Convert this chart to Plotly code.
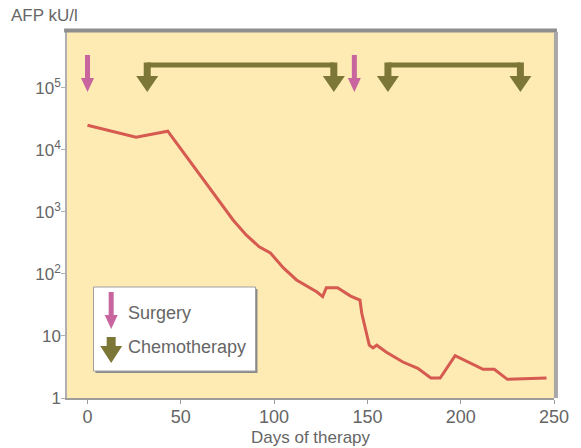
import plotly.graph_objects as go

# ---- data ----
days = [0, 26, 43, 55, 66, 78, 85, 92, 98, 105, 112, 118, 123, 126, 128, 134, 141,
        146, 147, 151, 153, 155, 160, 169, 177, 184, 189, 197, 205, 212, 218, 225, 246]
afp = [25000, 16000, 20000, 6400, 2250, 740, 425, 274, 218, 125, 80, 62, 51, 43, 60, 60, 44,
       38, 23, 7.1, 6.4, 7.1, 5.5, 3.8, 3.0, 2.1, 2.1, 4.8, 3.7, 2.9, 2.9, 2.0, 2.1]
surgery_days = [0, 143]
chemo_start = [32, 161]
chemo_end = [132, 232]
x_ticks = [0, 50, 100, 150, 200, 250]
y_ticks = [1, 10, 100, 1000, 10000, 100000]
y_ticktext = ["1", "10", "10<sup>2</sup>", "10<sup>3</sup>", "10<sup>4</sup>", "10<sup>5</sup>"]
legend_labels = ["Surgery", "Chemotherapy"]

# ---- styling ----
W, H = 581, 448
ML, MR, MT, MB = 67, 18, 32, 50
PW, PH = W - ML - MR, H - MT - MB
FONT = "Liberation Sans, Arial, sans-serif"
TXT = "#666666"
BG = "#fdebb3"
CURVE = "#d65a50"
PINK = "#c8659f"
OLIVE = "#7c7736"
FS = 18


def px_x(px):
    return (px - ML) / PW


def px_y(py):
    return (H - MB - py) / PH


SURG_PATH = "M -2.5 37 L 2.5 37 L 2.5 14 L 6.5 14 L 0 0 L -6.5 14 L -2.5 14 Z"
CHEMO_PATH = "M -3.5 29.5 L 3.5 29.5 L 3.5 16 L 11 16 L 0 0 L -11 16 L -3.5 16 Z"

fig = go.Figure()
fig.add_trace(go.Scatter(x=days, y=afp, mode="lines",
                         line=dict(color=CURVE, width=3), showlegend=False,
                         hoverinfo="skip"))

shapes = []
tip_y = px_y(92)
for d in surgery_days:
    shapes.append(dict(type="path", xref="x", yref="paper", xsizemode="pixel",
                       ysizemode="pixel", xanchor=d, yanchor=tip_y, path=SURG_PATH,
                       fillcolor=PINK, line=dict(width=0)))
bar_y = px_y(65)
for s, e in zip(chemo_start, chemo_end):
    shapes.append(dict(type="line", xref="x", yref="paper", x0=s, x1=e, y0=bar_y, y1=bar_y,
                       line=dict(color=OLIVE, width=5)))
    for d in (s, e):
        shapes.append(dict(type="path", xref="x", yref="paper", xsizemode="pixel",
                           ysizemode="pixel", xanchor=d, yanchor=tip_y, path=CHEMO_PATH,
                           fillcolor=OLIVE, line=dict(width=0)))

# frame: thick top, shadowed right
shapes.append(dict(type="line", xref="paper", yref="paper", x0=-0.006, x1=1.006, y0=1.004, y1=1.004,
                   line=dict(color="#8e8e8e", width=4)))
shapes.append(dict(type="line", xref="paper", yref="paper", x0=1.004, x1=1.004, y0=0, y1=1.0,
                   line=dict(color="#a8a8a8", width=4)))

# legend box
bx0, bx1, by0, by1 = px_x(94), px_x(259), px_y(371), px_y(287)
shapes.append(dict(type="rect", xref="paper", yref="paper",
                   x0=bx0 + 2 / PW, x1=bx1 + 2 / PW, y0=by0 - 2 / PH, y1=by1 - 2 / PH,
                   fillcolor="#8a8a8a", line=dict(width=0)))
shapes.append(dict(type="rect", xref="paper", yref="paper", x0=bx0, x1=bx1, y0=by0, y1=by1,
                   fillcolor="white", line=dict(color="#a0a0a0", width=1)))
shapes.append(dict(type="path", xref="paper", yref="paper", xsizemode="pixel", ysizemode="pixel",
                   xanchor=px_x(112), yanchor=px_y(329), path=SURG_PATH,
                   fillcolor=PINK, line=dict(width=0)))
shapes.append(dict(type="path", xref="paper", yref="paper", xsizemode="pixel", ysizemode="pixel",
                   xanchor=px_x(112), yanchor=px_y(363),
                   path="M -4.5 26 L 4.5 26 L 4.5 17 L 11 17 L 0 0 L -11 17 L -4.5 17 Z",
                   fillcolor=OLIVE, line=dict(width=0)))

annotations = [
    dict(text=legend_labels[0], xref="paper", yref="paper", x=px_x(127), y=px_y(313),
         xanchor="left", yanchor="middle", showarrow=False, font=dict(size=FS, color=TXT, family=FONT)),
    dict(text=legend_labels[1], xref="paper", yref="paper", x=px_x(127), y=px_y(347),
         xanchor="left", yanchor="middle", showarrow=False, font=dict(size=FS, color=TXT, family=FONT)),
    dict(text="AFP kU/l", xref="paper", yref="paper", x=px_x(8), y=px_y(15),
         xanchor="left", yanchor="middle", showarrow=False, font=dict(size=17, color=TXT, family=FONT)),
    dict(text="Days of therapy", xref="paper", yref="paper", x=0.5, y=px_y(437),
         xanchor="center", yanchor="middle", showarrow=False, font=dict(size=17, color=TXT, family=FONT)),
]

fig.update_layout(
    width=W, height=H,
    margin=dict(l=ML, r=MR, t=MT, b=MB, pad=0),
    paper_bgcolor="white", plot_bgcolor=BG,
    font=dict(family=FONT, size=FS, color=TXT),
    shapes=shapes, annotations=annotations, showlegend=False,
    xaxis=dict(range=[-11, 250], tickvals=x_ticks, showgrid=False, zeroline=False,
               showline=True, linecolor="#9c9c9c", linewidth=2, ticks="outside",
               ticklen=4, tickcolor="#9c9c9c", ticklabelstandoff=-3,
               tickfont=dict(size=FS, color=TXT)),
    yaxis=dict(type="log", range=[0, 5.9], tickvals=y_ticks, ticktext=y_ticktext,
               showgrid=False, zeroline=False, showline=True, linecolor="#b0b0b0",
               linewidth=1.5, ticks="outside", ticklen=4, tickcolor="#b0b0b0",
               ticklabelstandoff=-3, tickfont=dict(size=17, color=TXT)),
)

fig.write_html("out.html", config={"displayModeBar": False},
               post_script="document.body.style.margin='0';document.body.style.overflow='hidden';")
